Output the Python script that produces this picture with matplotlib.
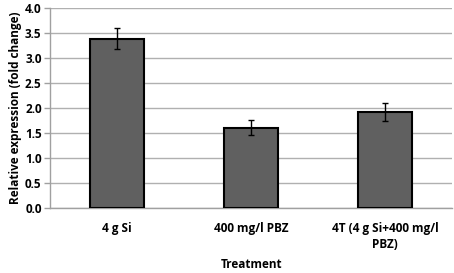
import numpy as np
import matplotlib.pyplot as plt

treatments = ["4 g Si", "400 mg/l PBZ", "4T (4 g Si+400 mg/l\nPBZ)"]
fold_change = [3.39, 1.61, 1.92]
errors = [0.20, 0.15, 0.18]
yticks = [0.0, 0.5, 1.0, 1.5, 2.0, 2.5, 3.0, 3.5, 4.0]

plt.rcParams["font.family"] = ["Open Sans", "DejaVu Sans"]
plt.rcParams["font.weight"] = "bold"

fig = plt.figure(figsize=(4.54, 2.73), dpi=100)
ax = fig.add_axes([50 / 454, 1 - 208 / 273, 402 / 454, 200 / 273])

x = np.arange(len(treatments))
ax.bar(x, fold_change, width=0.4, color="#606060", edgecolor="black",
       linewidth=1.5, zorder=3)
ax.errorbar(x, fold_change, yerr=errors, fmt="none", ecolor="black",
            elinewidth=1, capsize=2.5, capthick=1, zorder=4)

ax.set_xlim(-0.5, len(treatments) - 0.5)
ax.set_ylim(0, 4.0)
ax.set_yticks(yticks)
ax.set_yticklabels([f"{t:.1f}" for t in yticks], fontsize=8.5, fontweight="bold")
ax.set_xticks(x)
ax.set_xticklabels(treatments, fontsize=8.5, fontweight="bold",
                   linespacing=1.35)
ax.tick_params(axis="x", length=0, pad=10)
ax.tick_params(axis="y", length=4, color="#a0a0a0", width=1, pad=2)

ax.grid(axis="y", color="#b0b0b0", linewidth=1, zorder=0)
for side in ["top", "right"]:
    ax.spines[side].set_visible(False)
for side in ["left", "bottom"]:
    ax.spines[side].set_color("#a0a0a0")
    ax.spines[side].set_linewidth(1)

ax.set_ylabel("Relative expression (fold change)", fontsize=8.5,
              fontweight="bold", labelpad=2)
fig.text(252 / 454, 1 - 265 / 273, "Treatment", fontsize=8.5,
         fontweight="bold", ha="center", va="center")

fig.savefig("out.png", dpi=100)
